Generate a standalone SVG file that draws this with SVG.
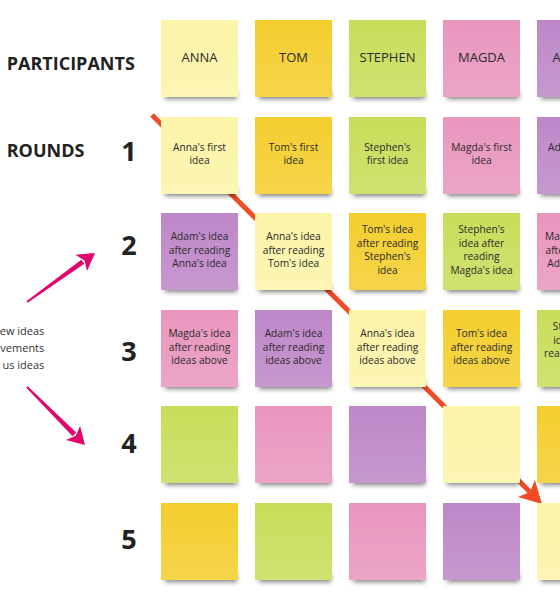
<svg xmlns="http://www.w3.org/2000/svg" width="560" height="600" viewBox="0 0 560 600">
<defs>
<style>
.lbl{font-family:"Open Sans","Liberation Sans",sans-serif;font-weight:700;fill:#222}
.num{font-family:"Open Sans","Liberation Sans",sans-serif;font-weight:700;font-size:27px;fill:#222;text-anchor:middle}
.hd{font-family:"Open Sans","Liberation Sans",sans-serif;font-size:13px;fill:#2a2a2a;text-anchor:middle}
.tx{font-family:"Open Sans","Liberation Sans",sans-serif;font-size:10.2px;fill:#2a2a2a;text-anchor:middle}
.txs{font-family:"Open Sans","Liberation Sans",sans-serif;font-size:10.2px;fill:#2a2a2a}
.side{font-family:"Open Sans","Liberation Sans",sans-serif;font-size:11px;fill:#333;text-anchor:end}
.shadow{fill:#000;opacity:.5;filter:url(#blur)}
.sheen{fill:url(#sheen)}
.lemon{fill:#FCF4A8}
.gold{fill:#F4CE2E}
.lime{fill:#C9DD5A}
.pink{fill:#E996BE}
.violet{fill:#BE87C8}
.red-shaft{stroke:#F24B25;stroke-width:5;fill:none}
.red-head{fill:#F24B25}
.mag{fill:#E0066E}
</style>
<filter id="blur" x="-20%" y="-100%" width="140%" height="300%"><feGaussianBlur stdDeviation="2.5"/></filter>
<linearGradient id="sheen" x1="0" y1="0" x2="0" y2="1">
<stop offset="0" stop-color="#fff" stop-opacity="0"/>
<stop offset="1" stop-color="#fff" stop-opacity="0.14"/>
</linearGradient>
</defs>
<rect width="560" height="600" fill="#fff"/>

<g id="labels">
<text class="lbl" x="6.7" y="70" font-size="18">PARTICIPANTS</text>
<text class="lbl" x="6.7" y="157" font-size="18">ROUNDS</text>
<text class="num" x="129" y="161">1</text>
<text class="num" x="129" y="255">2</text>
<text class="num" x="129" y="361">3</text>
<text class="num" x="129" y="453">4</text>
<text class="num" x="129" y="549">5</text>
<text class="side" x="44.3" y="335">ew ideas</text>
<text class="side" x="44.3" y="352">vements</text>
<text class="side" x="44.3" y="369">us ideas</text>
</g>

<g id="connectors">
<line class="red-shaft" x1="152" y1="115" x2="530" y2="492"/>
<polygon class="red-head" points="542,504 517.9,497 530,492 534.9,480"/>
<polygon class="mag" points="26.4,301.2 27.6,302.8 84.3,263.8 81.3,259.8"/>
<polygon class="mag" points="95,253 87.05,271 84.5,260.6 75.35,254.8"/>
<polygon class="mag" points="26.3,387.7 27.7,386.3 76.2,432.6 72.6,436.2"/>
<polygon class="mag" points="85,445 65.9,440.1 75.8,435.8 80.1,425.9"/>
</g>

<!-- Row 0: participants -->
<g id="p-anna"><rect class="shadow" x="165" y="91" width="72" height="8"/><rect class="lemon" x="161" y="20" width="77" height="77"/><rect class="sheen" x="161" y="20" width="77" height="77"/><text class="hd" x="199.5" y="61.5">ANNA</text></g>
<g id="p-tom"><rect class="shadow" x="259" y="91" width="72" height="8"/><rect class="gold" x="255" y="20" width="77" height="77"/><rect class="sheen" x="255" y="20" width="77" height="77"/><text class="hd" x="293.5" y="61.5">TOM</text></g>
<g id="p-stephen"><rect class="shadow" x="353" y="91" width="72" height="8"/><rect class="lime" x="349" y="20" width="77" height="77"/><rect class="sheen" x="349" y="20" width="77" height="77"/><text class="hd" x="387.5" y="61.5">STEPHEN</text></g>
<g id="p-magda"><rect class="shadow" x="447" y="91" width="72" height="8"/><rect class="pink" x="443" y="20" width="77" height="77"/><rect class="sheen" x="443" y="20" width="77" height="77"/><text class="hd" x="481.5" y="61.5">MAGDA</text></g>
<g id="p-adam"><rect class="shadow" x="541" y="91" width="72" height="8"/><rect class="violet" x="537" y="20" width="77" height="77"/><rect class="sheen" x="537" y="20" width="77" height="77"/><text class="hd" x="556.6" y="61.5" text-anchor="start">A</text></g>

<!-- Row 1 -->
<g id="r1-anna"><rect class="shadow" x="165" y="188" width="72" height="8"/><rect class="lemon" x="161" y="117" width="77" height="77"/><rect class="sheen" x="161" y="117" width="77" height="77"/><text class="tx" x="199.5" y="150.5">Anna's first</text><text class="tx" x="199.5" y="164">idea</text></g>
<g id="r1-tom"><rect class="shadow" x="259" y="188" width="72" height="8"/><rect class="gold" x="255" y="117" width="77" height="77"/><rect class="sheen" x="255" y="117" width="77" height="77"/><text class="tx" x="293.5" y="150.5">Tom's first</text><text class="tx" x="293.5" y="164">idea</text></g>
<g id="r1-stephen"><rect class="shadow" x="353" y="188" width="72" height="8"/><rect class="lime" x="349" y="117" width="77" height="77"/><rect class="sheen" x="349" y="117" width="77" height="77"/><text class="tx" x="387.5" y="150.5">Stephen's</text><text class="tx" x="387.5" y="164">first idea</text></g>
<g id="r1-magda"><rect class="shadow" x="447" y="188" width="72" height="8"/><rect class="pink" x="443" y="117" width="77" height="77"/><rect class="sheen" x="443" y="117" width="77" height="77"/><text class="tx" x="481.5" y="150.5">Magda's first</text><text class="tx" x="481.5" y="164">idea</text></g>
<g id="r1-adam"><rect class="shadow" x="541" y="188" width="72" height="8"/><rect class="violet" x="537" y="117" width="77" height="77"/><rect class="sheen" x="537" y="117" width="77" height="77"/><text class="txs" x="548" y="150.5">Ad</text></g>

<!-- Row 2 -->
<g id="r2-c1"><rect class="shadow" x="165" y="284" width="72" height="8"/><rect class="violet" x="161" y="213" width="77" height="77"/><rect class="sheen" x="161" y="213" width="77" height="77"/><text class="tx" x="199.5" y="240">Adam's idea</text><text class="tx" x="199.5" y="253.5">after reading</text><text class="tx" x="199.5" y="267">Anna's idea</text></g>
<g id="r2-c2"><rect class="shadow" x="259" y="284" width="72" height="8"/><rect class="lemon" x="255" y="213" width="77" height="77"/><rect class="sheen" x="255" y="213" width="77" height="77"/><text class="tx" x="293.5" y="240">Anna's idea</text><text class="tx" x="293.5" y="253.5">after reading</text><text class="tx" x="293.5" y="267">Tom's idea</text></g>
<g id="r2-c3"><rect class="shadow" x="353" y="284" width="72" height="8"/><rect class="gold" x="349" y="213" width="77" height="77"/><rect class="sheen" x="349" y="213" width="77" height="77"/><text class="tx" x="387.5" y="233">Tom's idea</text><text class="tx" x="387.5" y="246.5">after reading</text><text class="tx" x="387.5" y="260">Stephen's</text><text class="tx" x="387.5" y="273.5">idea</text></g>
<g id="r2-c4"><rect class="shadow" x="447" y="284" width="72" height="8"/><rect class="lime" x="443" y="213" width="77" height="77"/><rect class="sheen" x="443" y="213" width="77" height="77"/><text class="tx" x="481.5" y="233">Stephen's</text><text class="tx" x="481.5" y="246.5">idea after</text><text class="tx" x="481.5" y="260">reading</text><text class="tx" x="481.5" y="273.5">Magda's idea</text></g>
<g id="r2-c5"><rect class="shadow" x="541" y="284" width="72" height="8"/><rect class="pink" x="537" y="213" width="77" height="77"/><rect class="sheen" x="537" y="213" width="77" height="77"/><text class="txs" x="545" y="240">Ma</text><text class="txs" x="545.5" y="253.5">afte</text><text class="txs" x="547.2" y="267">Ad</text></g>

<!-- Row 3 -->
<g id="r3-c1"><rect class="shadow" x="165" y="381" width="72" height="8"/><rect class="pink" x="161" y="310" width="77" height="77"/><rect class="sheen" x="161" y="310" width="77" height="77"/><text class="tx" x="199.5" y="337">Magda's idea</text><text class="tx" x="199.5" y="350.5">after reading</text><text class="tx" x="199.5" y="364">ideas above</text></g>
<g id="r3-c2"><rect class="shadow" x="259" y="381" width="72" height="8"/><rect class="violet" x="255" y="310" width="77" height="77"/><rect class="sheen" x="255" y="310" width="77" height="77"/><text class="tx" x="293.5" y="337">Adam's idea</text><text class="tx" x="293.5" y="350.5">after reading</text><text class="tx" x="293.5" y="364">ideas above</text></g>
<g id="r3-c3"><rect class="shadow" x="353" y="381" width="72" height="8"/><rect class="lemon" x="349" y="310" width="77" height="77"/><rect class="sheen" x="349" y="310" width="77" height="77"/><text class="tx" x="387.5" y="337">Anna's idea</text><text class="tx" x="387.5" y="350.5">after reading</text><text class="tx" x="387.5" y="364">ideas above</text></g>
<g id="r3-c4"><rect class="shadow" x="447" y="381" width="72" height="8"/><rect class="gold" x="443" y="310" width="77" height="77"/><rect class="sheen" x="443" y="310" width="77" height="77"/><text class="tx" x="481.5" y="337">Tom's idea</text><text class="tx" x="481.5" y="350.5">after reading</text><text class="tx" x="481.5" y="364">ideas above</text></g>
<g id="r3-c5"><rect class="shadow" x="541" y="381" width="72" height="8"/><rect class="lime" x="537" y="310" width="77" height="77"/><rect class="sheen" x="537" y="310" width="77" height="77"/><text class="txs" x="552.8" y="330">St</text><text class="txs" x="553.3" y="343.5">id</text><text class="txs" x="544" y="357">rea</text></g>

<!-- Row 4 -->
<g id="r4-c1"><rect class="shadow" x="165" y="477" width="72" height="8"/><rect class="lime" x="161" y="406" width="77" height="77"/><rect class="sheen" x="161" y="406" width="77" height="77"/></g>
<g id="r4-c2"><rect class="shadow" x="259" y="477" width="72" height="8"/><rect class="pink" x="255" y="406" width="77" height="77"/><rect class="sheen" x="255" y="406" width="77" height="77"/></g>
<g id="r4-c3"><rect class="shadow" x="353" y="477" width="72" height="8"/><rect class="violet" x="349" y="406" width="77" height="77"/><rect class="sheen" x="349" y="406" width="77" height="77"/></g>
<g id="r4-c4"><rect class="shadow" x="447" y="477" width="72" height="8"/><rect class="lemon" x="443" y="406" width="77" height="77"/><rect class="sheen" x="443" y="406" width="77" height="77"/></g>
<g id="r4-c5"><rect class="shadow" x="541" y="477" width="72" height="8"/><rect class="gold" x="537" y="406" width="77" height="77"/><rect class="sheen" x="537" y="406" width="77" height="77"/></g>

<!-- Row 5 -->
<g id="r5-c1"><rect class="shadow" x="165" y="574" width="72" height="8"/><rect class="gold" x="161" y="503" width="77" height="77"/><rect class="sheen" x="161" y="503" width="77" height="77"/></g>
<g id="r5-c2"><rect class="shadow" x="259" y="574" width="72" height="8"/><rect class="lime" x="255" y="503" width="77" height="77"/><rect class="sheen" x="255" y="503" width="77" height="77"/></g>
<g id="r5-c3"><rect class="shadow" x="353" y="574" width="72" height="8"/><rect class="pink" x="349" y="503" width="77" height="77"/><rect class="sheen" x="349" y="503" width="77" height="77"/></g>
<g id="r5-c4"><rect class="shadow" x="447" y="574" width="72" height="8"/><rect class="violet" x="443" y="503" width="77" height="77"/><rect class="sheen" x="443" y="503" width="77" height="77"/></g>
<g id="r5-c5"><rect class="shadow" x="541" y="574" width="72" height="8"/><rect class="lemon" x="537" y="503" width="77" height="77"/><rect class="sheen" x="537" y="503" width="77" height="77"/></g>
</svg>
